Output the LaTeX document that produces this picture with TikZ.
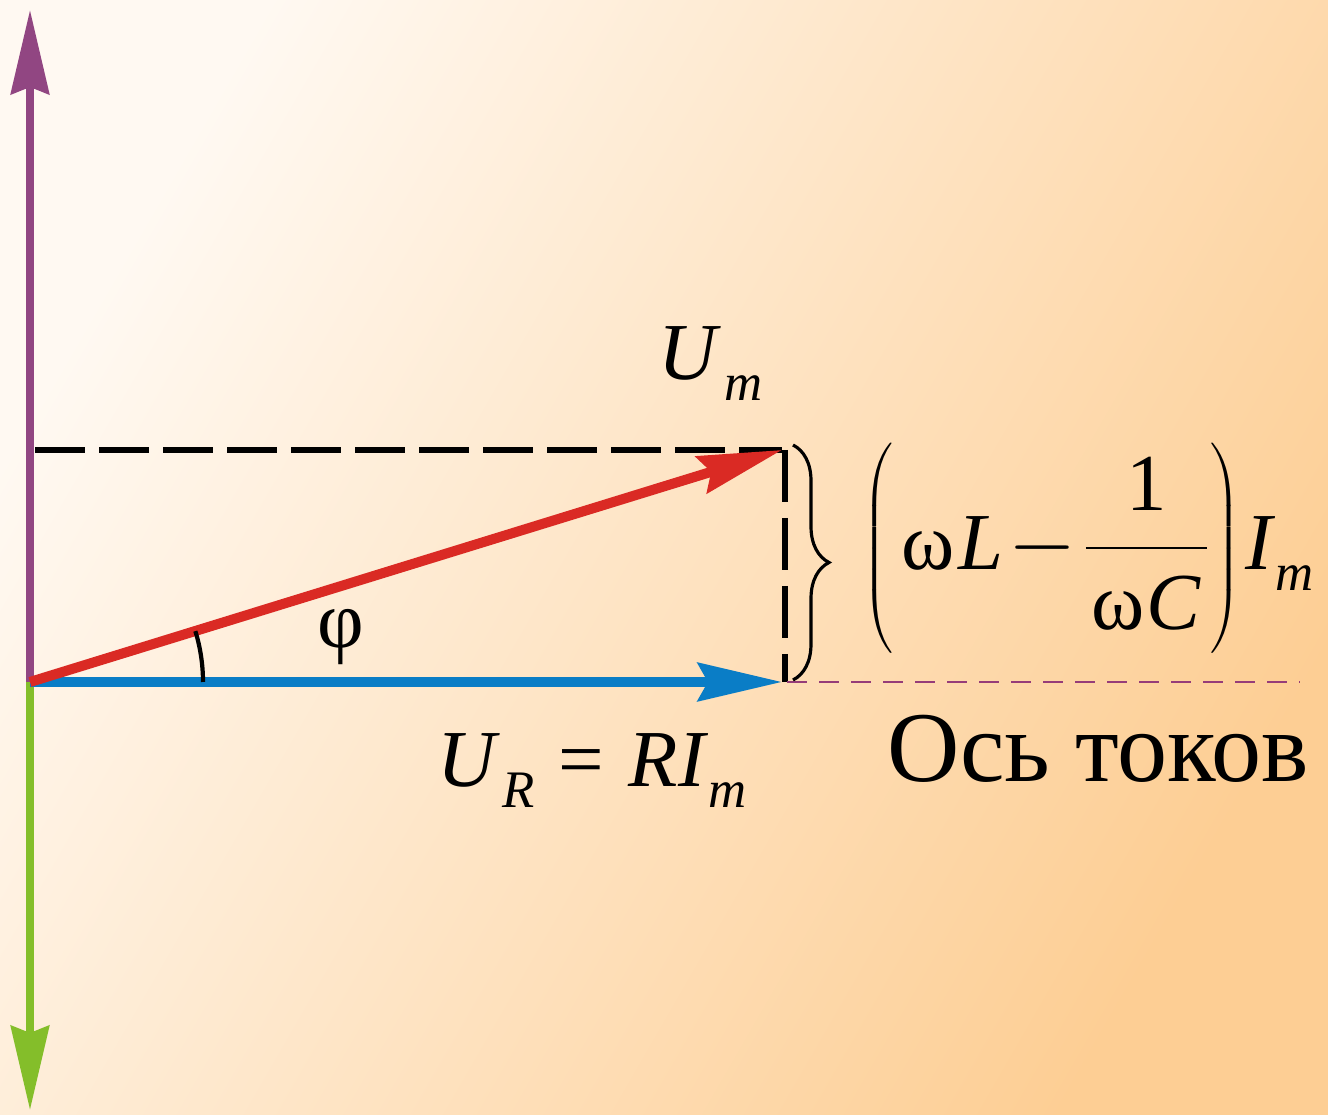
\documentclass[tikz,border=0pt]{standalone}
\usepackage{fontspec}
\setmainfont{LiberationSerif}[Extension=.ttf, UprightFont=*-Regular, ItalicFont=*-Italic,
  BoldFont=*-Bold, BoldItalicFont=*-BoldItalic]
\usepackage{tikz}
\usetikzlibrary{arrows.meta,decorations.pathreplacing}
\usepackage{xcolor}

\definecolor{bgleft}{RGB}{255,249,242}
\definecolor{bgright}{RGB}{253,206,148}
\definecolor{axisup}{RGB}{145,70,130}
\definecolor{axisdown}{RGB}{132,190,42}
\definecolor{vecR}{RGB}{10,125,198}
\definecolor{vecU}{RGB}{218,42,36}
\definecolor{curraxis}{RGB}{150,60,120}

\newcommand{\lowsub}[1]{\raisebox{-0.21cm}{\fontsize{15}{18}\selectfont\textit{#1}}}

\begin{document}
\begin{tikzpicture}[
  axis/.style={line width=0.08cm, -{Stealth[length=0.84cm, width=0.38cm, inset=0.07cm]}},
  vector/.style={line width=0.1cm, -{Stealth[length=0.84cm, width=0.38cm, inset=0.1cm]}},
  projline/.style={line width=1.6pt, dash pattern=on 0.5cm off 0.14cm},
  label/.style={inner sep=0pt, font=\fontsize{23}{28}\selectfont},
  bigtext/.style={inner sep=0pt, font=\fontsize{28.5}{34}\selectfont}
]

% background
\useasboundingbox (-0.30,-4.33) rectangle (12.98,6.82);
\shade[left color=bgleft, right color=bgright, shading angle=60]
  (-0.30,-4.33) rectangle (12.98,6.82);

\coordinate (O) at (0,0);
\coordinate (top) at (0,6.72);
\coordinate (bot) at (0,-4.28);
\coordinate (UR) at (7.52,0);
\coordinate (Um) at (7.52,2.32);
\coordinate (Uy) at (0.05,2.32);
\coordinate (axisend) at (12.70,0);

\draw[axis, axisup] (O) -- (top);
\draw[axis, axisdown] (O) -- (bot);

% projections
\draw[projline] (Uy) -- (Um);
\draw[projline, dash pattern=on 0.52cm off 0.16cm] ([xshift=0.03cm]Um) -- ([xshift=0.03cm]UR);
\draw[curraxis, line width=0.6pt, dash pattern=on 0.2cm off 0.12cm] ([xshift=0.05cm]UR) -- (axisend);

\draw[vector, vecR] (O) -- (UR);
\draw[vector, vecU] (O) -- (Um);

\draw[line width=1.2pt] (O) ++(1.73,0) arc[start angle=0, end angle=17.1, radius=1.73];
\draw[decorate, decoration={brace, amplitude=0.36cm}, line width=0.9pt]
  ([xshift=0.11cm, yshift=0.05cm]Um) -- ([xshift=0.11cm, yshift=0.02cm]UR);

\node[label, anchor=base west] (Umlab) at (6.28,3.02) {\textit{U}\kern0.03cm\lowsub{m}};
\node[label, anchor=base] (phi) at (3.11,0.34) {φ};
\node[label, anchor=base west] (URlab) at (4.07,-1.05)
  {\textit{U}\kern0.02cm\lowsub{R}\kern0.3em=\kern0.3em\textit{RI}\lowsub{m}};
\node[label, anchor=base west] (XLlab) at (8.32,1.12)
  {$\left(\rule[-0.9cm]{0pt}{2.2cm}\kern0.08cm\mbox{ω\kern0.04cm\textit{L}}\kern0.05cm{-}\kern0.05cm{\displaystyle\frac{\mbox{1}}{\mbox{\kern0.06cm ω\kern0.01cm\textit{C}\kern0.06cm}}}\right)$\kern0.04cm\textit{I}\lowsub{m}};
\node[bigtext, anchor=base west] (axisname) at (8.57,-1.00) {Ось токов};

\end{tikzpicture}
\end{document}
